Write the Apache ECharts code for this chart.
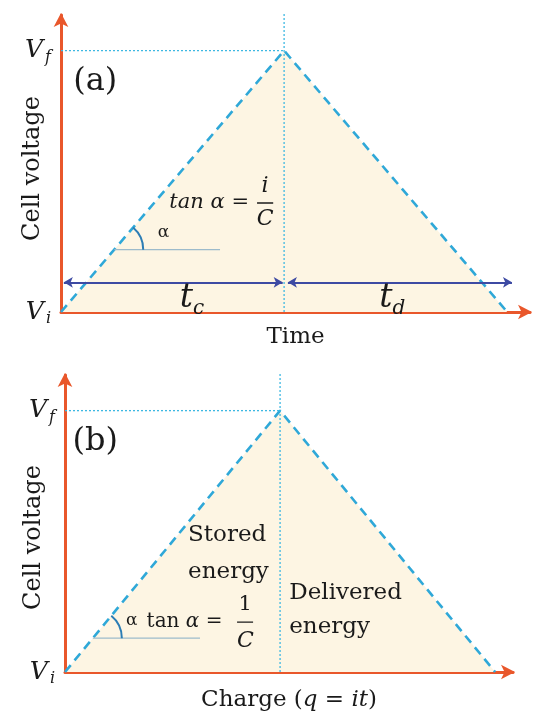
<!DOCTYPE html>
<html>
<head>
<meta charset="utf-8">
<script src="https://cdn.jsdelivr.net/npm/echarts@6/dist/echarts.min.js"></script>
<style>
  html, body { margin: 0; padding: 0; background: #fff; }
  #chart { width: 539px; height: 720px; }
</style>
</head>
<body>
<div id="chart"></div>
<script>
// Triangular charge / discharge profile of a capacitor cell.
// x: time (panel a) or charge (panel b); y: cell voltage.
const profileX = [0, 47, 94];          // start, end of charge (peak), end of discharge
const profileV = [0, 88, 0];           // Vi, Vf, Vi
const voltTicks = [0, 88];             // Vi and Vf positions on the voltage axis
const voltTickSubs = ['i', 'f'];       // subscripts of the V tick labels
const peakLineTop = 101;               // top of the vertical guide at the peak
const spanArrowY = 10;                 // height of the tc / td span arrows
const angleBaseA = [21, 33.5];         // panel (a) angle base line: height, right end
const angleBaseB = [11.4, 29.5];       // panel (b) angle base line: height, right end

const AXIS = '#E9572B';
const DASH = '#2FA8D8';
const GUIDE = '#3DB8E2';
const FILL = '#FDF5E3';
const SPAN = '#3D4AA3';
const INK = '#1A1A1A';
const SERIF = '"DejaVu Serif", serif';

const peakX = profileX[1], Vf = profileV[1];

const vLabelRich = {
  v: { fontFamily: SERIF, fontStyle: 'italic', fontSize: 25, color: INK },
  s: { fontFamily: SERIF, fontStyle: 'italic', fontSize: 16, color: INK, padding: [14, 0, 0, 2] }
};

const axisLineStyle = {
  show: true, symbol: ['none', 'arrow'], symbolSize: [11, 14], symbolOffset: [0, 2],
  lineStyle: { color: AXIS, width: 3 }
};

function xAxisFor(idx, max, name, nameGap, rich) {
  return {
    type: 'value', gridIndex: idx, min: 0, max: max,
    axisLine: axisLineStyle,
    axisTick: { show: false }, axisLabel: { show: false }, splitLine: { show: false },
    name: name, nameLocation: 'middle', nameGap: nameGap, nameMoveOverlap: false,
    nameTextStyle: { fontFamily: SERIF, fontSize: 23, color: INK, rich: rich }
  };
}

function yAxisFor(idx, nameGap, namePad) {
  return {
    type: 'value', gridIndex: idx, min: 0, max: 100, interval: voltTicks[1],
    axisLine: axisLineStyle,
    axisTick: { show: false }, splitLine: { show: false },
    axisLabel: {
      margin: 10, showMaxLabel: false,
      formatter: function (v) {
        const k = voltTicks.indexOf(v);
        return k < 0 ? '' : '{v|V}{s|' + voltTickSubs[k] + '}';
      },
      rich: vLabelRich
    },
    name: 'Cell voltage', nameLocation: 'middle', nameGap: nameGap, nameRotate: 90,
    nameMoveOverlap: false,
    nameTextStyle: { fontFamily: SERIF, fontSize: 24, color: INK, padding: namePad }
  };
}

function profileSeries(idx) {
  return {
    type: 'line', xAxisIndex: idx, yAxisIndex: idx, z: 3,
    data: profileX.map((x, i) => [x, profileV[i]]),
    symbol: 'none', silent: true,
    lineStyle: { color: DASH, width: 2.6, type: [9, 6] },
    areaStyle: { color: FILL, opacity: 1 }
  };
}

function guideSeries(idx) {
  return [
    { type: 'line', xAxisIndex: idx, yAxisIndex: idx, z: 4, symbol: 'none', clip: false, silent: true,
      data: [[peakX, 0], [peakX, peakLineTop]],
      lineStyle: { color: GUIDE, width: 1.3, type: [2, 2] } },
    { type: 'line', xAxisIndex: idx, yAxisIndex: idx, z: 4, symbol: 'none', silent: true,
      data: [[0, Vf], [peakX, Vf]],
      lineStyle: { color: GUIDE, width: 1.3, type: [2, 2] } }
  ];
}

// thin base line of the angle and the arc marking alpha
function angleSeries(idx, base) {
  const h = base[0];
  const x0 = h * peakX / Vf;
  return [
    { type: 'line', xAxisIndex: idx, yAxisIndex: idx, z: 4, symbol: 'none', silent: true,
      data: [[x0, h], [base[1], h]],
      lineStyle: { color: '#9DBBCB', width: 1.2 } },
    { type: 'custom', xAxisIndex: idx, yAxisIndex: idx, z: 5, silent: true,
      data: [[x0, h]],
      renderItem: function (params, api) {
        const c = api.coord([api.value(0), api.value(1)]);
        const p0 = api.coord([profileX[0], profileV[0]]);
        const p1 = api.coord([peakX, Vf]);
        const ang = Math.atan2(p0[1] - p1[1], p1[0] - p0[0]);
        return { type: 'arc',
          shape: { cx: c[0], cy: c[1], r: 29, startAngle: -ang, endAngle: 0, clockwise: true },
          style: { stroke: '#2C7DB5', lineWidth: 2, fill: null } };
      } }
  ];
}

function textSeries(idx, items) {
  return {
    type: 'scatter', xAxisIndex: idx, yAxisIndex: idx, z: 6, silent: true,
    symbolSize: 0, itemStyle: { opacity: 1 },
    data: items.map(t => ({
      value: [t.x, t.y],
      label: Object.assign({ show: true, position: 'inside', formatter: t.text,
        align: t.align || 'center', verticalAlign: 'middle',
        fontFamily: SERIF, fontSize: t.size || 23, color: INK,
        textBorderWidth: 0, textBorderColor: 'transparent',
        fontStyle: t.italic ? 'italic' : 'normal', lineHeight: t.lh || 30 }, t.style || {})
    }))
  };
}

function fractionBar(idx, x0, x1, y) {
  return { type: 'line', xAxisIndex: idx, yAxisIndex: idx, z: 6, symbol: 'none', silent: true,
    data: [[x0, y], [x1, y]], lineStyle: { color: INK, width: 1.4 } };
}

const subRich = {
  t: { fontFamily: SERIF, fontStyle: 'italic', fontSize: 33, color: INK, textBorderWidth: 0 },
  s: { fontFamily: SERIF, fontStyle: 'italic', fontSize: 20, color: INK, textBorderWidth: 0, padding: [20, 0, 0, 0] }
};

const chart = echarts.init(document.getElementById('chart'), null, { renderer: 'canvas' });

chart.setOption({
  animation: false,
  backgroundColor: '#ffffff',
  grid: [
    { left: 61, top: 15, width: 469, height: 297, containLabel: false, outerBoundsMode: 'none' },
    { left: 65, top: 375, width: 448, height: 297, containLabel: false, outerBoundsMode: 'none' }
  ],
  xAxis: [
    xAxisFor(0, 98.8, 'Time', 14),
    xAxisFor(1, 97.9, '{u|Charge (}{m|q = it}{u|)}', 17, {
      u: { fontFamily: SERIF, fontSize: 23, color: INK },
      m: { fontFamily: SERIF, fontStyle: 'italic', fontSize: 23, color: INK }
    })
  ],
  yAxis: [ yAxisFor(0, 16, [0, 10, 0, 0]), yAxisFor(1, 19, [0, 28, 0, 0]) ],
  series: [
    profileSeries(0),
    ...guideSeries(0),
    ...angleSeries(0, angleBaseA),
    { type: 'line', xAxisIndex: 0, yAxisIndex: 0, z: 5, symbol: 'none', silent: true, data: [],
      markLine: { silent: true, symbol: ['arrow', 'arrow'], symbolSize: [8, 9],
        lineStyle: { color: SPAN, width: 1.8, type: 'solid' }, label: { show: false },
        data: [
          [{ coord: [0.6, spanArrowY] }, { coord: [peakX - 0.3, spanArrowY] }],
          [{ coord: [peakX + 0.8, spanArrowY] }, { coord: [profileX[2] + 1, spanArrowY] }]
        ] } },
    fractionBar(0, 41.3, 44.7, 36.7),
    textSeries(0, [
      { x: 7.2, y: 77.4, text: '(a)', size: 32 },
      { x: 39.6, y: 36.7, text: 'tan α =', italic: true, align: 'right', size: 21 },
      { x: 43, y: 42.3, text: 'i', italic: true, size: 22 },
      { x: 43, y: 31.2, text: 'C', italic: true, size: 22 },
      { x: 21.6, y: 26.6, text: 'α', size: 17 },
      { x: 27.6, y: 4.5, text: '{t|t}{s|c}', style: { rich: subRich } },
      { x: 69.8, y: 4.5, text: '{t|t}{s|d}', style: { rich: subRich } }
    ]),

    profileSeries(1),
    ...guideSeries(1),
    ...angleSeries(1, angleBaseB),
    fractionBar(1, 37.6, 41.1, 16.8),
    textSeries(1, [
      { x: 6.6, y: 77.4, text: '(b)', size: 32 },
      { x: 26.9, y: 40, text: 'Stored\nenergy', align: 'left', size: 23, lh: 37 },
      { x: 49, y: 20.9, text: 'Delivered\nenergy', align: 'left', size: 23, lh: 34 },
      { x: 14.6, y: 17.4, text: 'α', size: 17 },
      { x: 34.4, y: 16.8, text: '{u|tan }{m|α =}', align: 'right', style: { rich: {
          u: { fontFamily: SERIF, fontSize: 20, color: INK, textBorderWidth: 0 },
          m: { fontFamily: SERIF, fontStyle: 'italic', fontSize: 20, color: INK, textBorderWidth: 0 } } } },
      { x: 39.4, y: 22.8, text: '1', size: 21 },
      { x: 39.4, y: 10.3, text: 'C', italic: true, size: 22 }
    ])
  ]
});
</script>
</body>
</html>
